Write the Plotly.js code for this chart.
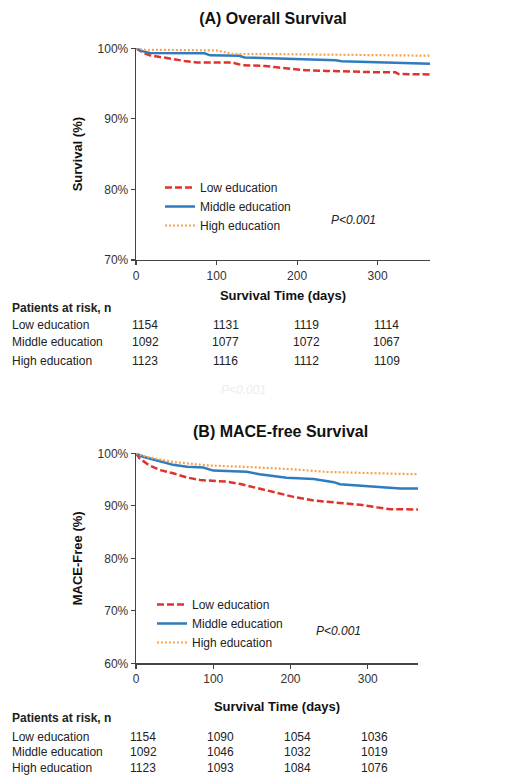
<!DOCTYPE html>
<html>
<head>
<meta charset="utf-8">
<script src="https://cdn.plot.ly/plotly-3.0.1.min.js"></script>
<style>html,body{margin:0;padding:0;background:#fff;}#chart{width:530px;height:782px;}</style>
</head>
<body>
<div id="chart"></div>
<script>
// ---- Data ----
const seriesNames = ["Low education", "Middle education", "High education"];

// (A) Overall survival
const osLowDays  = [0, 5, 10, 17, 30, 45, 60, 75, 120, 125, 133, 160, 175, 196, 210, 237, 260, 300, 322, 326, 365];
const osLowVals  = [100, 99.6, 99.3, 99.0, 98.8, 98.5, 98.2, 98.0, 98.0, 97.8, 97.6, 97.5, 97.3, 97.1, 96.9, 96.8, 96.7, 96.6, 96.6, 96.35, 96.3];
const osMidDays  = [0, 8, 17, 85, 92, 128, 135, 200, 210, 248, 255, 300, 336, 365];
const osMidVals  = [100, 99.6, 99.35, 99.3, 99.0, 98.95, 98.7, 98.5, 98.4, 98.3, 98.15, 98.0, 97.8, 97.8];
const osHighDays = [0, 10, 100, 110, 120, 200, 300, 365];
const osHighVals = [100, 99.8, 99.7, 99.45, 99.2, 99.15, 99.0, 98.95];

// (B) MACE-free survival
const mfLowDays  = [0, 5, 16, 31, 48, 66, 83, 117, 135, 160, 177, 204, 230, 256, 290, 312, 329, 365];
const mfLowVals  = [100, 99.0, 97.8, 96.8, 96.2, 95.4, 94.9, 94.6, 94.15, 93.3, 92.6, 91.7, 91.0, 90.7, 90.2, 89.7, 89.35, 89.3];
const mfMidDays  = [0, 9, 31, 48, 66, 87, 100, 143, 160, 195, 230, 256, 264, 303, 342, 365];
const mfMidVals  = [100, 99.35, 98.5, 97.8, 97.45, 97.3, 96.7, 96.5, 96.0, 95.35, 95.1, 94.5, 94.1, 93.65, 93.3, 93.3];
const mfHighDays = [0, 14, 48, 92, 143, 204, 247, 312, 340, 365];
const mfHighVals = [100, 99.3, 98.35, 97.7, 97.4, 96.95, 96.45, 96.15, 96.1, 96.0];

// Patients at risk
const riskTimes   = [0, 100, 200, 300];
const osRiskLow   = [1154, 1131, 1119, 1114];
const osRiskMid   = [1092, 1077, 1072, 1067];
const osRiskHigh  = [1123, 1116, 1112, 1109];
const mfRiskLow   = [1154, 1090, 1054, 1036];
const mfRiskMid   = [1092, 1046, 1032, 1019];
const mfRiskHigh  = [1123, 1093, 1084, 1076];

const xTicks = [0, 100, 200, 300];
const osYTicks = [70, 80, 90, 100];
const mfYTicks = [60, 70, 80, 90, 100];

// ---- Styles ----
const FONT = "Liberation Sans, Arial, Helvetica, sans-serif";
const colors = ["#e0332b", "#2e7bbf", "#f6a24c"];
const dashes = ["7px,3px", "solid", "2px,2px"];
const widths = [2.5, 2.5, 2.2];
const H = 782, W = 530;
const py = px => (H - px) / H;

function mk(days, vals, i, xa, ya, leg) {
  return {
    x: days, y: vals, type: "scatter", mode: "lines",
    name: seriesNames[i], xaxis: xa, yaxis: ya, legend: leg,
    cliponaxis: false,
    line: {color: colors[i], width: widths[i], dash: dashes[i]},
    hoverinfo: "skip"
  };
}

const traces = [
  mk(osLowDays, osLowVals, 0, "x", "y", "legend"),
  mk(osMidDays, osMidVals, 1, "x", "y", "legend"),
  mk(osHighDays, osHighVals, 2, "x", "y", "legend"),
  mk(mfLowDays, mfLowVals, 0, "x2", "y2", "legend2"),
  mk(mfMidDays, mfMidVals, 1, "x2", "y2", "legend2"),
  mk(mfHighDays, mfHighVals, 2, "x2", "y2", "legend2")
];

const axisCommon = {
  showgrid: false, zeroline: false, showline: true, linecolor: "#444", linewidth: 1.3,
  ticks: "outside", ticklen: 4, tickwidth: 1.2, tickcolor: "#444",
  tickfont: {family: FONT, size: 12, color: "#333"}, fixedrange: true
};

function xAxis(domain, anchor, standoff) {
  return Object.assign({}, axisCommon, {
    domain: domain, anchor: anchor, range: [0, 365], tickmode: "array", tickvals: xTicks,
    title: {text: "<b>Survival Time (days)</b>", font: {family: FONT, size: 13, color: "#111"}, standoff: standoff}
  });
}
function yAxis(domain, anchor, range, tv, title) {
  return Object.assign({}, axisCommon, {
    domain: domain, anchor: anchor, range: range, tickmode: "array", tickvals: tv,
    ticktext: tv.map(v => v + "%"),
    title: {text: "<b>" + title + "</b>", font: {family: FONT, size: 13, color: "#111"}, standoff: 12}
  });
}

const annotations = [];
function txt(x, xref, yPx, text, opts) {
  annotations.push(Object.assign({
    x: x, xref: xref, y: py(yPx), yref: "paper", text: text, showarrow: false,
    xanchor: "left", yanchor: "middle",
    font: {family: FONT, size: 12, color: "#222"}
  }, opts || {}));
}

function riskTable(headerY, rowYs, rows, xref, xshift) {
  txt(10 / W, "paper", headerY, "<b>Patients at risk, n</b>");
  rows.forEach((r, ri) => {
    txt(10 / W, "paper", rowYs[ri], seriesNames[ri]);
    r.forEach((v, ci) => {
      txt(riskTimes[ci], xref, rowYs[ri], String(v), {xanchor: "center", xshift: xshift});
    });
  });
}
riskTable(308, [325, 342, 361], [osRiskLow, osRiskMid, osRiskHigh], "x", 9);
riskTable(718, [737, 752, 768], [mfRiskLow, mfRiskMid, mfRiskHigh], "x2", 7);

// p-values
txt(353 / W, "paper", 220, "<i>P<0.001</i>", {xanchor: "center"});
txt(338 / W, "paper", 631, "<i>P<0.001</i>", {xanchor: "center"});
txt(243 / W, "paper", 390, "<i>P<0.001</i>", {xanchor: "center", font: {family: FONT, size: 12, color: "#ececec"}});

// (B) title
txt(280 / W, "paper", 432, "<b>(B) MACE-free Survival</b>", {xanchor: "center", font: {family: FONT, size: 16, color: "#111"}});

const legendCommon = {
  bgcolor: "rgba(0,0,0,0)", borderwidth: 0, xanchor: "left", yanchor: "top",
  font: {family: FONT, size: 12, color: "#222"}, itemwidth: 30, tracegroupgap: 0,
  itemclick: false, itemdoubleclick: false
};

const layout = {
  width: W, height: H,
  margin: {l: 0, r: 0, t: 0, b: 0},
  paper_bgcolor: "#fff", plot_bgcolor: "#fff",
  title: {text: "<b>(A) Overall Survival</b>", x: 273 / W, xanchor: "center", y: py(18), yanchor: "middle",
          font: {family: FONT, size: 16, color: "#111"}},
  xaxis: xAxis([136 / W, 430 / W], "y", 9),
  yaxis: yAxis([py(260), py(48.3)], "x", [70, 100], osYTicks, "Survival (%)"),
  xaxis2: xAxis([136 / W, 418 / W], "y2", 17),
  yaxis2: yAxis([py(663.3), py(453.3)], "x2", [60, 100], mfYTicks, "MACE-Free (%)"),
  legend: Object.assign({}, legendCommon, {x: 160 / W, y: py(173)}),
  legend2: Object.assign({}, legendCommon, {x: 152 / W, y: py(590)}),
  annotations: annotations,
  showlegend: true
};

Plotly.newPlot("chart", traces, layout, {displayModeBar: false, staticPlot: true});
</script>
</body>
</html>
